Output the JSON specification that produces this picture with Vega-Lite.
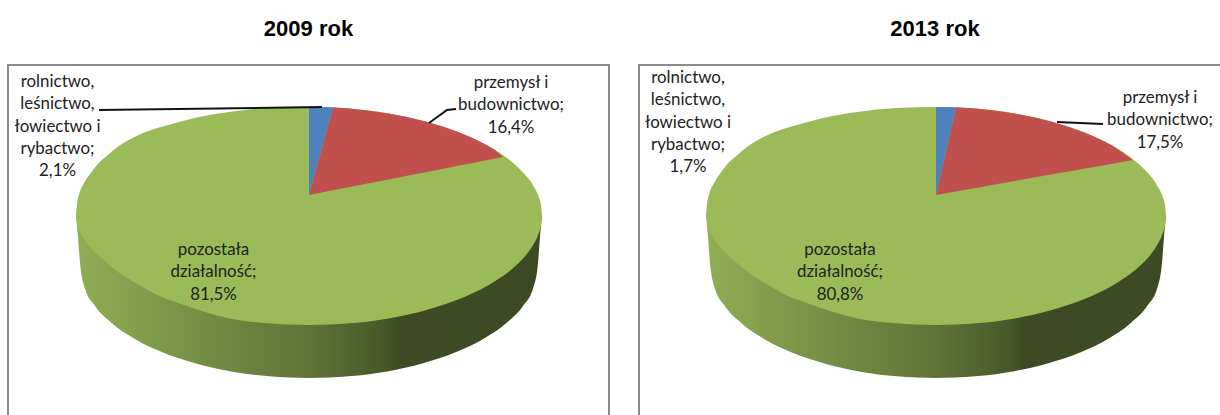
{"$schema":"https://vega.github.io/schema/vega-lite/v6.json","background":"white","padding":{"left":7,"top":17,"right":0,"bottom":0},"spacing":28,"config":{"view":{"stroke":"#8c8c8c","strokeWidth":2,"fill":"white"},"title":{"font":"Liberation Sans","fontWeight":"bold","fontSize":22,"color":"#000","offset":24,"anchor":"middle"}},
"datasets":{
"outline":[
{"year":2009,"part":"side","x":-233,"y":-20,"y2":-20},{"year":2009,"part":"side","x":-231,"y":-20,"y2":-42},{"year":2009,"part":"side","x":-229,"y":-20,"y2":-68},{"year":2009,"part":"side","x":-224.5,"y":-20,"y2":-92.1},{"year":2009,"part":"side","x":-214.3,"y":-20,"y2":-110.6},{"year":2009,"part":"side","x":-197.4,"y":-20,"y2":-128},{"year":2009,"part":"side","x":-174.6,"y":-20,"y2":-143.7},{"year":2009,"part":"side","x":-146.6,"y":-20,"y2":-157.3},{"year":2009,"part":"side","x":-114,"y":-20,"y2":-168.3},{"year":2009,"part":"side","x":-78,"y":-20,"y2":-176.4},{"year":2009,"part":"side","x":-39.6,"y":-20,"y2":-181.3},{"year":2009,"part":"side","x":0,"y":-20,"y2":-183},{"year":2009,"part":"side","x":39.6,"y":-20,"y2":-181.3},{"year":2009,"part":"side","x":78,"y":-20,"y2":-176.4},{"year":2009,"part":"side","x":114,"y":-20,"y2":-168.3},{"year":2009,"part":"side","x":146.6,"y":-20,"y2":-157.3},{"year":2009,"part":"side","x":174.6,"y":-20,"y2":-143.7},{"year":2009,"part":"side","x":197.4,"y":-20,"y2":-128},{"year":2009,"part":"side","x":214.3,"y":-20,"y2":-110.6},{"year":2009,"part":"side","x":224.5,"y":-20,"y2":-92.1},{"year":2009,"part":"side","x":229,"y":-20,"y2":-68},{"year":2009,"part":"side","x":231,"y":-20,"y2":-42},{"year":2009,"part":"side","x":233,"y":-20,"y2":-20},
{"year":2009,"part":"face","x":-233,"y":-20,"y2":-20},{"year":2009,"part":"face","x":-232.1,"y":-10,"y2":-28},{"year":2009,"part":"face","x":-229.5,"y":2,"y2":-36},{"year":2009,"part":"face","x":-225,"y":12,"y2":-44},{"year":2009,"part":"face","x":-219,"y":21,"y2":-52},{"year":2009,"part":"face","x":-211.2,"y":31,"y2":-60},{"year":2009,"part":"face","x":-201.8,"y":39.5,"y2":-68},{"year":2009,"part":"face","x":-190.9,"y":48.5,"y2":-77},{"year":2009,"part":"face","x":-178.5,"y":56,"y2":-85},{"year":2009,"part":"face","x":-164.7,"y":62.5,"y2":-93},{"year":2009,"part":"face","x":-149.8,"y":67.5,"y2":-101},{"year":2009,"part":"face","x":-133.6,"y":72,"y2":-107},{"year":2009,"part":"face","x":-116.5,"y":76.5,"y2":-113},{"year":2009,"part":"face","x":-79.7,"y":83,"y2":-123.4},{"year":2009,"part":"face","x":-40.5,"y":87,"y2":-128.3},{"year":2009,"part":"face","x":0,"y":88,"y2":-130},{"year":2009,"part":"face","x":40.5,"y":86.4,"y2":-128.3},{"year":2009,"part":"face","x":79.7,"y":81.5,"y2":-123.4},{"year":2009,"part":"face","x":116.5,"y":73.5,"y2":-115.3},{"year":2009,"part":"face","x":133.6,"y":68.5,"y2":-110.1},{"year":2009,"part":"face","x":149.8,"y":62.7,"y2":-104.3},{"year":2009,"part":"face","x":164.7,"y":56.4,"y2":-97.8},{"year":2009,"part":"face","x":178.5,"y":49.4,"y2":-90.7},{"year":2009,"part":"face","x":190.9,"y":42,"y2":-83.1},{"year":2009,"part":"face","x":201.8,"y":34,"y2":-75},{"year":2009,"part":"face","x":211.2,"y":25.6,"y2":-66.5},{"year":2009,"part":"face","x":219,"y":16.9,"y2":-57.6},{"year":2009,"part":"face","x":225,"y":8,"y2":-48.5},{"year":2009,"part":"face","x":229.5,"y":-1.3,"y2":-39.1},{"year":2009,"part":"face","x":232.1,"y":-10.6,"y2":-29.6},{"year":2009,"part":"face","x":233,"y":-20,"y2":-20},
{"year":2009,"part":"red","x":0,"y":0,"y2":0},{"year":2009,"part":"red","x":24,"y":87.7,"y2":4.7},{"year":2009,"part":"red","x":40.5,"y":86.4,"y2":7.9},{"year":2009,"part":"red","x":60,"y":84.3,"y2":11.8},{"year":2009,"part":"red","x":79.7,"y":81.5,"y2":15.6},{"year":2009,"part":"red","x":98,"y":78,"y2":19.2},{"year":2009,"part":"red","x":116.5,"y":73.5,"y2":22.8},{"year":2009,"part":"red","x":133,"y":68.7,"y2":26.1},{"year":2009,"part":"red","x":149.8,"y":62.7,"y2":29.4},{"year":2009,"part":"red","x":164,"y":56.7,"y2":32.1},{"year":2009,"part":"red","x":178.5,"y":49.4,"y2":35},{"year":2009,"part":"red","x":186,"y":45,"y2":36.5},{"year":2009,"part":"red","x":194,"y":38,"y2":38},
{"year":2009,"part":"blue","x":0,"y":88,"y2":0},{"year":2009,"part":"blue","x":24,"y":87.7,"y2":87.7},
{"year":2013,"part":"side","x":-230,"y":-20,"y2":-20},{"year":2013,"part":"side","x":-228,"y":-20,"y2":-42},{"year":2013,"part":"side","x":-226,"y":-20,"y2":-68},{"year":2013,"part":"side","x":-221.6,"y":-20,"y2":-92.1},{"year":2013,"part":"side","x":-211.5,"y":-20,"y2":-110.6},{"year":2013,"part":"side","x":-194.8,"y":-20,"y2":-128},{"year":2013,"part":"side","x":-172.3,"y":-20,"y2":-143.7},{"year":2013,"part":"side","x":-144.7,"y":-20,"y2":-157.3},{"year":2013,"part":"side","x":-112.5,"y":-20,"y2":-168.3},{"year":2013,"part":"side","x":-77,"y":-20,"y2":-176.4},{"year":2013,"part":"side","x":-39,"y":-20,"y2":-181.3},{"year":2013,"part":"side","x":0,"y":-20,"y2":-183},{"year":2013,"part":"side","x":39,"y":-20,"y2":-181.3},{"year":2013,"part":"side","x":77,"y":-20,"y2":-176.4},{"year":2013,"part":"side","x":112.5,"y":-20,"y2":-168.3},{"year":2013,"part":"side","x":144.7,"y":-20,"y2":-157.3},{"year":2013,"part":"side","x":172.3,"y":-20,"y2":-143.7},{"year":2013,"part":"side","x":194.8,"y":-20,"y2":-128},{"year":2013,"part":"side","x":211.5,"y":-20,"y2":-110.6},{"year":2013,"part":"side","x":221.6,"y":-20,"y2":-92.1},{"year":2013,"part":"side","x":226,"y":-20,"y2":-68},{"year":2013,"part":"side","x":228,"y":-20,"y2":-42},{"year":2013,"part":"side","x":230,"y":-20,"y2":-20},
{"year":2013,"part":"face","x":-230,"y":-20,"y2":-20},{"year":2013,"part":"face","x":-229.1,"y":-10,"y2":-28},{"year":2013,"part":"face","x":-226.5,"y":2,"y2":-36},{"year":2013,"part":"face","x":-222,"y":12,"y2":-44},{"year":2013,"part":"face","x":-216.2,"y":21,"y2":-52},{"year":2013,"part":"face","x":-208.5,"y":31,"y2":-60},{"year":2013,"part":"face","x":-199.2,"y":39.5,"y2":-68},{"year":2013,"part":"face","x":-188.4,"y":48.5,"y2":-77},{"year":2013,"part":"face","x":-176.2,"y":56,"y2":-85},{"year":2013,"part":"face","x":-162.6,"y":62.5,"y2":-93},{"year":2013,"part":"face","x":-147.9,"y":67.5,"y2":-101},{"year":2013,"part":"face","x":-131.9,"y":72,"y2":-107},{"year":2013,"part":"face","x":-115,"y":76.5,"y2":-113},{"year":2013,"part":"face","x":-78.7,"y":83,"y2":-123.4},{"year":2013,"part":"face","x":-40,"y":87,"y2":-128.3},{"year":2013,"part":"face","x":0,"y":88,"y2":-130},{"year":2013,"part":"face","x":40,"y":86.4,"y2":-128.3},{"year":2013,"part":"face","x":78.7,"y":81.5,"y2":-123.4},{"year":2013,"part":"face","x":115,"y":73.5,"y2":-115.3},{"year":2013,"part":"face","x":131.9,"y":68.5,"y2":-110.1},{"year":2013,"part":"face","x":147.9,"y":62.7,"y2":-104.3},{"year":2013,"part":"face","x":162.6,"y":56.4,"y2":-97.8},{"year":2013,"part":"face","x":176.2,"y":49.4,"y2":-90.7},{"year":2013,"part":"face","x":188.4,"y":42,"y2":-83.1},{"year":2013,"part":"face","x":199.2,"y":34,"y2":-75},{"year":2013,"part":"face","x":208.5,"y":25.6,"y2":-66.5},{"year":2013,"part":"face","x":216.2,"y":16.9,"y2":-57.6},{"year":2013,"part":"face","x":222,"y":8,"y2":-48.5},{"year":2013,"part":"face","x":226.5,"y":-1.3,"y2":-39.1},{"year":2013,"part":"face","x":229.1,"y":-10.6,"y2":-29.6},{"year":2013,"part":"face","x":230,"y":-20,"y2":-20},
{"year":2013,"part":"red","x":0,"y":0,"y2":0},{"year":2013,"part":"red","x":20,"y":87.7,"y2":3.6},{"year":2013,"part":"red","x":40,"y":86.4,"y2":7.1},{"year":2013,"part":"red","x":60,"y":84.2,"y2":10.7},{"year":2013,"part":"red","x":78.7,"y":81.5,"y2":14},{"year":2013,"part":"red","x":98,"y":77.7,"y2":17.4},{"year":2013,"part":"red","x":115,"y":73.5,"y2":20.4},{"year":2013,"part":"red","x":130,"y":69.1,"y2":23.1},{"year":2013,"part":"red","x":147.9,"y":62.7,"y2":26.3},{"year":2013,"part":"red","x":164,"y":55.7,"y2":29.1},{"year":2013,"part":"red","x":176.2,"y":49.4,"y2":31.3},{"year":2013,"part":"red","x":197,"y":35,"y2":35},
{"year":2013,"part":"blue","x":0,"y":88,"y2":0},{"year":2013,"part":"blue","x":20,"y":87.7,"y2":87.7}
],
"leaders":[
{"year":2009,"leader":"a","x":-210,"y":85},{"year":2009,"leader":"a","x":13,"y":88},
{"year":2009,"leader":"b","x":120,"y":72},{"year":2009,"leader":"b","x":138,"y":85},{"year":2009,"leader":"b","x":147,"y":86},
{"year":2013,"leader":"b","x":121,"y":73},{"year":2013,"leader":"b","x":167,"y":71}
],
"labels":[
{"year":2009,"share":"rolnictwo","pct":2.1,"label":"rolnictwo,\nleśnictwo,\nłowiectwo i\nrybactwo;\n2,1%","x":-251.5,"y":113},
{"year":2009,"share":"przemysł","pct":16.4,"label":"przemysł i\nbudownictwo;\n16,4%","x":202,"y":112},
{"year":2009,"share":"pozostała","pct":81.5,"label":"pozostała\ndziałalność;\n81,5%","x":-95.5,"y":-55},
{"year":2013,"share":"rolnictwo","pct":1.7,"label":"rolnictwo,\nleśnictwo,\nłowiectwo i\nrybactwo;\n1,7%","x":-248,"y":117},
{"year":2013,"share":"przemysł","pct":17.5,"label":"przemysł i\nbudownictwo;\n17,5%","x":224,"y":97},
{"year":2013,"share":"pozostała","pct":80.8,"label":"pozostała\ndziałalność;\n80,8%","x":-96,"y":-55}
]},
"hconcat":[
{"title":"2009 rok","width":601,"height":360,
"encoding":{"x":{"field":"x","type":"quantitative","scale":{"domain":[-301,300],"nice":false,"zero":false},"axis":null},"y":{"field":"y","type":"quantitative","scale":{"domain":[-230,130],"nice":false,"zero":false},"axis":null}},
"layer":[
{"data":{"name":"outline"},"transform":[{"filter":"datum.year==2009 && datum.part=='side'"}],"mark":{"type":"area","interpolate":"monotone","color":{"gradient":"linear","x1":0,"y1":0,"x2":1,"y2":0,"stops":[{"offset":0,"color":"#8fae55"},{"offset":0.3,"color":"#718a43"},{"offset":0.5,"color":"#5f7437"},{"offset":0.66,"color":"#48582a"},{"offset":0.69,"color":"#3f4a24"},{"offset":1,"color":"#3d4a24"}]}},"encoding":{"y2":{"field":"y2"}}},
{"data":{"name":"outline"},"transform":[{"filter":"datum.year==2009 && datum.part=='face'"}],"mark":{"type":"area","interpolate":"monotone","color":"#9bbb59"},"encoding":{"y2":{"field":"y2"}}},
{"data":{"name":"outline"},"transform":[{"filter":"datum.year==2009 && datum.part=='red'"}],"mark":{"type":"area","color":"#c0504d"},"encoding":{"y2":{"field":"y2"}}},
{"data":{"name":"outline"},"transform":[{"filter":"datum.year==2009 && datum.part=='blue'"}],"mark":{"type":"area","color":"#4f81bd"},"encoding":{"y2":{"field":"y2"}}},
{"data":{"name":"leaders"},"transform":[{"filter":"datum.year==2009"}],"mark":{"type":"line","color":"#111","strokeWidth":2},"encoding":{"detail":{"field":"leader"}}},
{"data":{"name":"labels"},"transform":[{"filter":"datum.year==2009"}],"mark":{"type":"text","font":"Lato","fontSize":16.9,"color":"#222","align":"center","baseline":"middle","lineBreak":"\n","lineHeight":22.3},"encoding":{"text":{"field":"label"}}}
]},
{"title":"2013 rok","width":592,"height":360,
"encoding":{"x":{"field":"x","type":"quantitative","scale":{"domain":[-297,295],"nice":false,"zero":false},"axis":null},"y":{"field":"y","type":"quantitative","scale":{"domain":[-230,130],"nice":false,"zero":false},"axis":null}},
"layer":[
{"data":{"name":"outline"},"transform":[{"filter":"datum.year==2013 && datum.part=='side'"}],"mark":{"type":"area","interpolate":"monotone","color":{"gradient":"linear","x1":0,"y1":0,"x2":1,"y2":0,"stops":[{"offset":0,"color":"#8fae55"},{"offset":0.3,"color":"#718a43"},{"offset":0.5,"color":"#5f7437"},{"offset":0.66,"color":"#48582a"},{"offset":0.69,"color":"#3f4a24"},{"offset":1,"color":"#3d4a24"}]}},"encoding":{"y2":{"field":"y2"}}},
{"data":{"name":"outline"},"transform":[{"filter":"datum.year==2013 && datum.part=='face'"}],"mark":{"type":"area","interpolate":"monotone","color":"#9bbb59"},"encoding":{"y2":{"field":"y2"}}},
{"data":{"name":"outline"},"transform":[{"filter":"datum.year==2013 && datum.part=='red'"}],"mark":{"type":"area","color":"#c0504d"},"encoding":{"y2":{"field":"y2"}}},
{"data":{"name":"outline"},"transform":[{"filter":"datum.year==2013 && datum.part=='blue'"}],"mark":{"type":"area","color":"#4f81bd"},"encoding":{"y2":{"field":"y2"}}},
{"data":{"name":"leaders"},"transform":[{"filter":"datum.year==2013"}],"mark":{"type":"line","color":"#111","strokeWidth":2},"encoding":{"detail":{"field":"leader"}}},
{"data":{"name":"labels"},"transform":[{"filter":"datum.year==2013"}],"mark":{"type":"text","font":"Lato","fontSize":16.9,"color":"#222","align":"center","baseline":"middle","lineBreak":"\n","lineHeight":22.3},"encoding":{"text":{"field":"label"}}}
]}
]}
